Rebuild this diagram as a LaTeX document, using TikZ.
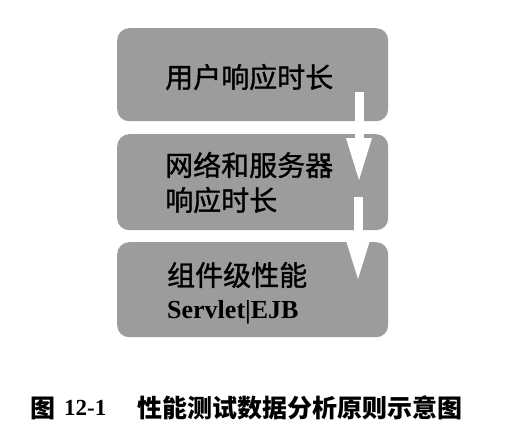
\documentclass[tikz,border=0pt]{standalone}
\usepackage{fontspec}
\setmainfont{Liberation Serif}
\newfontfamily\cjk{Noto Sans CJK SC}
\newfontfamily\cjkmid{Noto Sans CJK SC}[FakeBold=1.2]
\usetikzlibrary{arrows.meta}
\definecolor{boxgray}{RGB}{156,156,156}
\tikzset{
  panel/.style={fill=boxgray, draw=none, rounded corners=12pt, anchor=north west, inner sep=0pt},
  boxlabel/.style={anchor=west, inner sep=0pt, text=black, font=\cjkmid\fontsize{28}{32}\selectfont},
  flow/.style={draw=white, line width=9pt, -{Triangle[width=23pt,length=45pt]}},
  captext/.style={anchor=west, inner sep=0pt, text=black}
}
\begin{document}
\begin{tikzpicture}[x=1pt,y=-1pt]
\useasboundingbox[fill=white] (0,0) rectangle (526,442);
\node[panel, minimum width=271pt, minimum height=93pt] (b1) at (117,28) {};
\node[panel, minimum width=271pt, minimum height=96pt] (b2) at (117,134) {};
\node[panel, minimum width=271pt, minimum height=95pt] (b3) at (117,242) {};
\node[boxlabel] (t1) at (165,77) {用户响应时长};
\node[boxlabel] (t2) at (165,165) {网络和服务器};
\node[boxlabel] (t3) at (165,200) {响应时长};
\node[boxlabel] (t4) at (167,275) {组件级性能};
\node[boxlabel, font=\bfseries\fontsize{26}{30}\selectfont] (t5) at (167,312) {Servlet|EJB};
\coordinate (a1s) at (359,92);
\coordinate (a1e) at (359,183);
\coordinate (a2s) at (358,197);
\coordinate (a2e) at (358,282);
\draw[flow] (a1s) -- (a1e);
\draw[flow] (a2s) -- (a2e);
\node[captext, font=\cjk\bfseries\fontsize{25}{30}\selectfont] (c1) at (30,408) {图};
\node[captext, font=\bfseries\fontsize{23}{30}\selectfont] (c2) at (64,408) {12-1};
\node[captext, font=\cjk\bfseries\fontsize{25}{30}\selectfont] (c3) at (137,408) {性能测试数据分析原则示意图};
\end{tikzpicture}
\end{document}
